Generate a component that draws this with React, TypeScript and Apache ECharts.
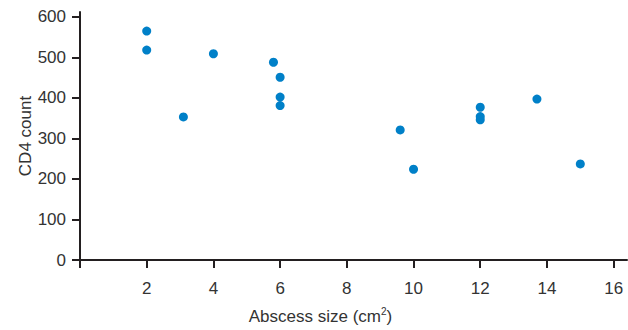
import React, { useEffect, useRef } from "react";
import * as echarts from "echarts";

const abscessSize = [2, 2, 3.1, 4, 5.8, 6, 6, 6, 9.6, 10, 12, 12, 12, 13.7, 15];
const cd4Count = [565, 518, 353, 509, 488, 451, 402, 381, 321, 224, 377, 354, 346, 397, 237];
const xTicks = [0, 2, 4, 6, 8, 10, 12, 14, 16];
const xLabels = [2, 4, 6, 8, 10, 12, 14, 16];
const yTicks = [0, 100, 200, 300, 400, 500, 600];

const FONT = '"Liberation Sans", Arial, sans-serif';
const TEXT = "#333333";
const AXIS = "#231f20";

export default function App() {
  const ref = useRef<HTMLDivElement>(null);
  useEffect(() => {
    if (!ref.current) return;
    const chart = echarts.init(ref.current, null, { renderer: "svg" });
    const points = abscessSize.map((x, i) => [x, cd4Count[i]]);
    chart.setOption({
      animation: false,
      grid: { left: 80, right: 1, top: 12, bottom: 70, containLabel: false },
      xAxis: {
        type: "value",
        min: 0,
        max: 16.4,
        name: "{a|Abscess size (cm}{s|2}{a|)}",
        nameLocation: "middle",
        nameGap: 46,
        nameTextStyle: {
          padding: [0, 66, 0, 0],
          rich: {
            a: { fontFamily: FONT, fontSize: 17, color: TEXT },
            s: { fontFamily: FONT, fontSize: 10, color: TEXT, verticalAlign: "top", padding: [0, 0, 10, 0] },
          },
        },
        splitLine: { show: false },
        axisLine: { show: true, lineStyle: { color: AXIS, width: 2 } },
        axisTick: { show: true, length: 8, lineStyle: { color: AXIS, width: 2 }, customValues: xTicks },
        axisLabel: { fontFamily: FONT, fontSize: 17, color: TEXT, margin: 20, customValues: xLabels },
      },
      yAxis: {
        type: "value",
        min: 0,
        max: 612,
        name: "CD4 count",
        nameLocation: "middle",
        nameGap: 46,
        nameMoveOverlap: false,
        nameTextStyle: { fontFamily: FONT, fontSize: 17, color: TEXT },
        splitLine: { show: false },
        axisLine: { show: true, lineStyle: { color: AXIS, width: 2 } },
        axisTick: { show: true, length: 8, lineStyle: { color: AXIS, width: 2 }, customValues: yTicks },
        axisLabel: { fontFamily: FONT, fontSize: 17, color: TEXT, margin: 14, customValues: yTicks },
      },
      series: [
        {
          type: "scatter",
          data: points,
          symbolSize: 9,
          itemStyle: { color: "#0080c8", opacity: 1 },
        },
      ],
    });
    return () => chart.dispose();
  }, []);
  return (
    <div
      ref={ref}
      style={{ position: "absolute", left: 0, top: 0, width: 628, height: 330 }}
    />
  );
}
